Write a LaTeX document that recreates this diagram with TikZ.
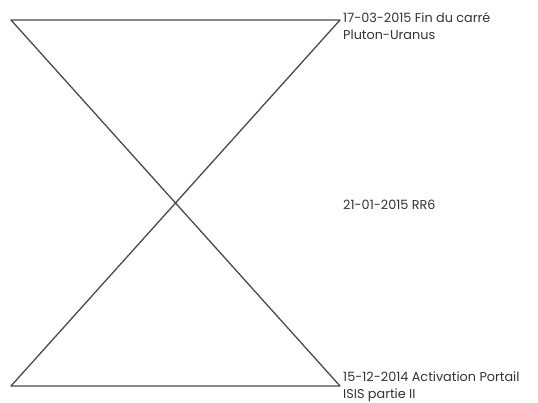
\documentclass[tikz,border=0pt]{standalone}
\usepackage{fontspec}
\setmainfont{Poppins}
\usepackage{tikz}
\usetikzlibrary{positioning,calc}
\definecolor{linegray}{HTML}{4A4A4A}
\definecolor{textgray}{HTML}{333333}

\begin{document}
\begin{tikzpicture}[x=1pt,y=-1pt,
  glass/.style={draw=linegray,line width=1.3pt,line join=round},
  datelabel/.style={anchor=west,font=\fontsize{12.8}{17}\selectfont,text=textgray,align=left,inner sep=0pt}]
\useasboundingbox (0,0) rectangle (538,403);
\coordinate (tl) at (11,20);
\coordinate (tr) at (340,20);
\coordinate (bl) at (11,386);
\coordinate (br) at (340,386);
\draw[glass] (tl)--(tr)--(bl)--(br)--cycle;
\node[datelabel,anchor=north west] (top) at (343,12.5){17-03-2015 Fin du carré\\Pluton-Uranus};
\node[datelabel] (mid) at (343,205){21-01-2015 RR6};
\node[datelabel,anchor=south west] (bot) at (343,402.5){15-12-2014 Activation Portail\\ISIS partie II};
\end{tikzpicture}
\end{document}
